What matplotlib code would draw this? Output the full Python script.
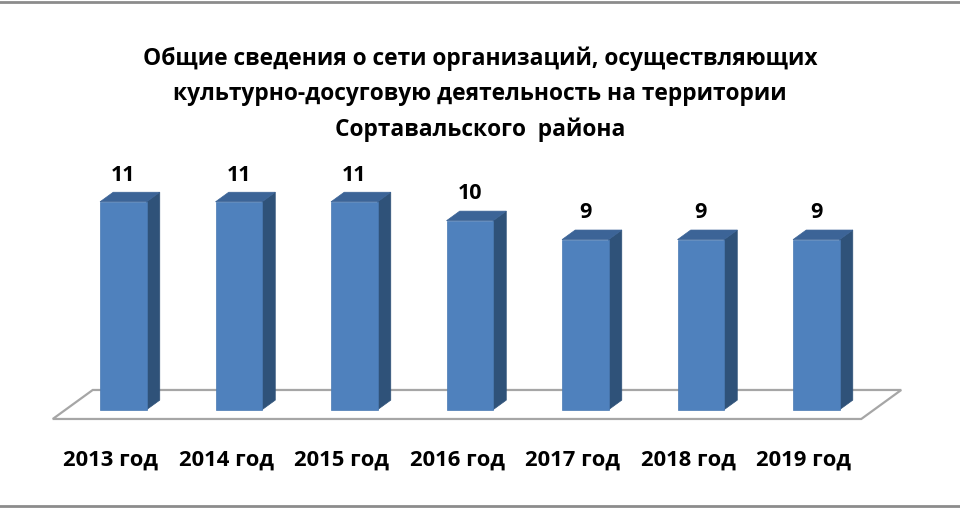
import numpy as np
import matplotlib
matplotlib.use("Agg")
import matplotlib.pyplot as plt
from matplotlib.patches import Polygon

plt.rcParams['font.family'] = ['Open Sans', 'DejaVu Sans']

years = ["2013 год", "2014 год", "2015 год", "2016 год", "2017 год", "2018 год", "2019 год"]
counts = [11, 11, 11, 10, 9, 9, 9]
title = ("Общие сведения о сети организаций, осуществляющих\n"
         "культурно-досуговую деятельность на территории\n"
         "Сортавальского  района")

front_col = "#4F81BD"
side_col = "#2F5279"
top_col = "#3C6497"
floor_col = "#A6A6A6"

# fake 3D: depth vector (per full floor depth) in data units
ddx, ddy = 0.346, 1.534
bar_w = 0.403
bar_d = 0.33        # bar depth as a fraction of floor depth
f_front, f_back = -0.32, 0.68

fig = plt.figure(figsize=(9.6, 5.1), dpi=100)
ax = fig.add_axes([0, 0, 1, 1])
ax.set_xlim(-1.0675, 7.244)
ax.set_ylim(-5.254, 21.73)
ax.axis("off")

n = len(counts)
x = np.arange(n)

# floor
x0, x1 = -0.5, n - 0.5
floor = [(x0 + f_front * ddx, f_front * ddy), (x1 + f_front * ddx, f_front * ddy),
         (x1 + f_back * ddx, f_back * ddy), (x0 + f_back * ddx, f_back * ddy)]
ax.add_patch(Polygon(floor, closed=True, facecolor="white", edgecolor=floor_col, lw=1.6, zorder=1))

ox, oy = bar_d * ddx, bar_d * ddy
for xi, v in zip(x, counts):
    l, r = xi - bar_w / 2, xi + bar_w / 2
    side = [(r, 0), (r + ox, oy), (r + ox, v + oy), (r, v)]
    top = [(l, v), (r, v), (r + ox, v + oy), (l + ox, v + oy)]
    ax.add_patch(Polygon(side, closed=True, facecolor=side_col, edgecolor=side_col, lw=0.5, zorder=2))
    ax.add_patch(Polygon(top, closed=True, facecolor=top_col, edgecolor=top_col, lw=0.5, zorder=2))
    ax.bar(xi, v, width=bar_w, color=front_col, edgecolor="#4A7AB3", lw=0.5, zorder=3)
    ax.annotate(str(v), (xi, v), xytext=(0, 20), textcoords="offset points",
                ha="center", va="center", fontsize=15.5, fontweight="bold", color="black")
    # category labels sit under the front edge of the floor
    ax.annotate(years[xi], (xi + f_front * ddx, f_front * ddy), xytext=(0, -29),
                textcoords="offset points", ha="center", va="center",
                fontsize=15.8, fontweight="bold", color="black")

ax.text(0.5, 1 - 94 / 510, title, transform=ax.transAxes, ha="center", va="center",
        fontsize=16.4, fontweight="bold", linespacing=1.61, color="black")

# chart border (top and bottom edges visible)
for yy in (1 - 2.5 / 510, 3.5 / 510):
    ax.plot([0, 1], [yy, yy], transform=ax.transAxes, color="#8C8C8C", lw=2, clip_on=False)

fig.savefig("out.png", dpi=100)
